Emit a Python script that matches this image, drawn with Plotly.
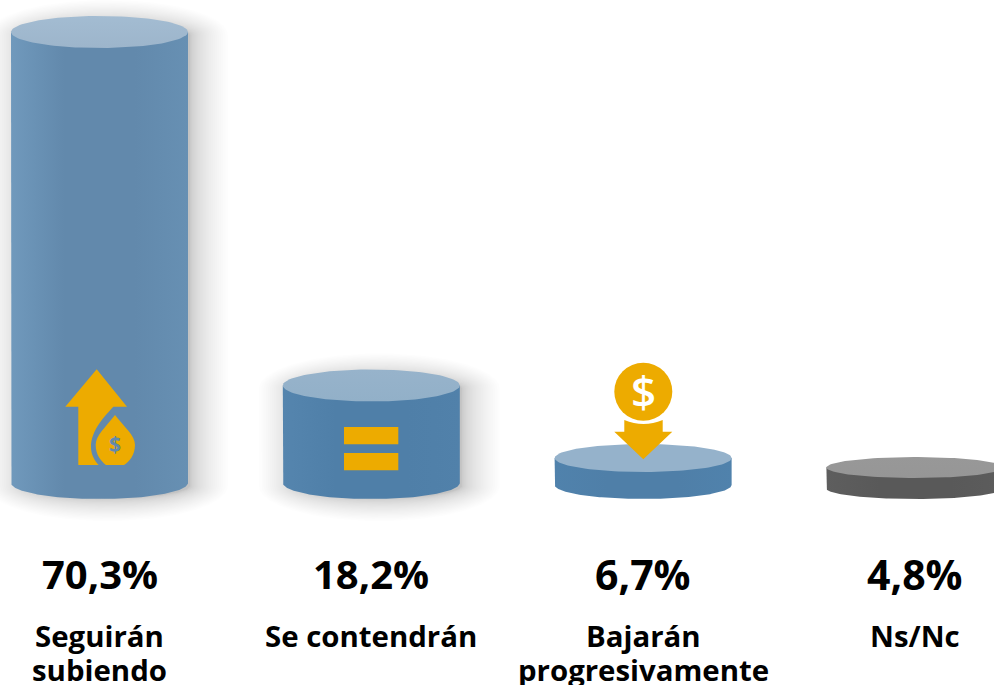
import numpy as np
import plotly.graph_objects as go

categories = ["Seguirán<br>subiendo", "Se contendrán", "Bajarán<br>progresivamente", "Ns/Nc"]
value_labels = ["70,3%", "18,2%", "6,7%", "4,8%"]
# heights of the cylinders as they are drawn in the picture, in percentage points
heights = [70.3, 17.09, 6.17, 4.74]

W, H = 994, 685
FONT = "Open Sans"
GOLD = "#EDAB00"
BLUE_ICON = "#6289AC"

# layout of the cylinders, in pixels
STEP = 271.8
FIRST_X = 99.5
HALF_W = 88.5
BASE_PX = 499
UNIT = 6.643  # px per percentage point
ELLIPSE_RY = [16, 16, 14, 10.5]
SHADOW = [1.0, 1.0, 0.1, 0.04]

BODY = [
    ["#7099BC", "#6289AC", "#6289AC", "#6790B3"],
    ["#5585AE", "#4F7FA8", "#4F7FA8", "#5181AA"],
    ["#5082AC", "#4F7FA8", "#4F7FA8", "#5082AC"],
    ["#5E5E5E", "#595959", "#595959", "#5C5C5C"],
]
TOP = [
    ["#A3BCD2", "#9DB5CB"],
    ["#97B3CB", "#92B0C8"],
    ["#95B2CB", "#95B2CB"],
    ["#989898", "#969696"],
]

xrange = [(0 - FIRST_X) / STEP, (W - FIRST_X) / STEP]
yrange = [(BASE_PX - H) / UNIT, BASE_PX / UNIT]
hw = HALF_W / STEP

fig = go.Figure()


def ellipse(cx, cy, rx, ry, t0=0, t1=2 * np.pi):
    t = np.linspace(t0, t1, 120)
    return cx + rx * np.cos(t), cy + ry * np.sin(t)


# soft shadows first, stacked translucent outlines, denser towards the cylinder
for i, h in enumerate(heights):
    ry = ELLIPSE_RY[i] / UNIT
    for u in np.linspace(1, 0, 30):
        g = -6 + 38 * u ** 1.8
        grow_x = g / STEP
        grow_y = g / UNIT
        dx, dy = 8 / STEP, -3 / UNIT
        tx, ty = ellipse(i + dx, h + dy, hw + grow_x, ry + grow_y * 0.6, 0, np.pi)
        bx, by = ellipse(i + dx, ry + dy, hw + grow_x, ry + grow_y * 0.6, np.pi, 2 * np.pi)
        fig.add_trace(go.Scatter(
            x=np.r_[tx, bx], y=np.r_[ty, by], mode="lines", line=dict(width=0),
            fill="toself", fillcolor=f"rgba(60,60,60,{0.0085 * SHADOW[i]:.4f})",
            hoverinfo="skip", showlegend=False,
        ))

# cylinder bodies and lids
for i, h in enumerate(heights):
    ry = ELLIPSE_RY[i] / UNIT
    bx, by = ellipse(i, ry, hw, ry, np.pi, 2 * np.pi)
    fig.add_trace(go.Scatter(
        x=np.r_[i - hw, bx, i + hw], y=np.r_[h, by, h], mode="lines", line=dict(width=0),
        fill="toself",
        fillgradient=dict(
            type="horizontal",
            colorscale=[[0, BODY[i][0]], [0.3, BODY[i][1]], [0.7, BODY[i][2]], [1, BODY[i][3]]],
        ),
        hoverinfo="skip", showlegend=False,
    ))
    tx, ty = ellipse(i, h, hw, ry)
    fig.add_trace(go.Scatter(
        x=tx, y=ty, mode="lines", line=dict(width=0), fill="toself",
        fillgradient=dict(type="vertical", colorscale=[[0, TOP[i][1]], [1, TOP[i][0]]]),
        hoverinfo="skip", showlegend=False,
    ))

# a hidden second pair of axes holds icons and text in pixels
fig.add_trace(go.Scatter(x=[0], y=[0], xaxis="x2", yaxis="y2", mode="markers",
                         marker=dict(opacity=0), hoverinfo="skip", showlegend=False))


def icon(path, color=GOLD):
    fig.add_shape(type="path", path=path, xref="x2", yref="y2", fillcolor=color,
                  line=dict(width=0), layer="above")


def text(x, y, s, size, color="#000000", weight=700):
    fig.add_annotation(
        x=x, y=y, xref="x2", yref="y2", text=s, showarrow=False,
        font=dict(family=FONT, size=size, color=color, weight=weight),
        xanchor="center", yanchor="middle",
    )


# arrow up with drop
icon("M96.7,369.3 L127,406.7 L113.3,406.7 C105,416 91,430 91,447 C91,455 95,461 98.7,465 "
     "L78.3,465 L78.3,406.7 L65.3,406.7 Z")
icon("M115,415 C124,427 135,435 135,445 C135,455 129,462 124,465 L106,465 "
     "C101,461 95.7,455 95.7,445 C95.7,435 106,427 115,415 Z")
text(115.2, 444, "$", 21, BLUE_ICON)

# equals sign
icon("M344,427 L398.3,427 L398.3,444.3 L344,444.3 Z")
icon("M344,453 L398.3,453 L398.3,470.3 L344,470.3 Z")

# coin with arrow down
fig.add_shape(type="circle", xref="x2", yref="y2", x0=614.3, x1=672.3, y0=362.7, y1=420.7,
              fillcolor=GOLD, line=dict(width=0), layer="above")
icon("M624.3,420 Q643.5,428 662.7,420 L662.7,431.7 L672.3,431.7 L643.3,459.3 L614.3,431.7 "
     "L624.3,431.7 Z")
text(643.5, 391, "$", 44, "#FFFFFF", weight=600)

for i, (lab, val) in enumerate(zip(categories, value_labels)):
    cx = FIRST_X + i * STEP
    text(cx, 573.5, val, 41 if i >= 2 else 40)
    if "<br>" in lab:
        a, b = lab.split("<br>")
        text(cx, 635.5, a, 29.4)
        text(cx, 669.5, b, 29.4)
    else:
        text(cx, 635.5, lab, 29.4)

hidden = dict(visible=False, fixedrange=True)
fig.update_layout(
    width=W, height=H,
    margin=dict(l=0, r=0, t=0, b=0),
    paper_bgcolor="#FFFFFF", plot_bgcolor="#FFFFFF",
    showlegend=False,
    xaxis=dict(range=xrange, **hidden),
    yaxis=dict(range=yrange, **hidden),
    xaxis2=dict(range=[0, W], overlaying="x", **hidden),
    yaxis2=dict(range=[H, 0], overlaying="y", **hidden),
)

fig.write_html("out.html", config={"displayModeBar": False},
               post_script="document.body.style.margin='0';document.body.style.overflow='hidden';")
